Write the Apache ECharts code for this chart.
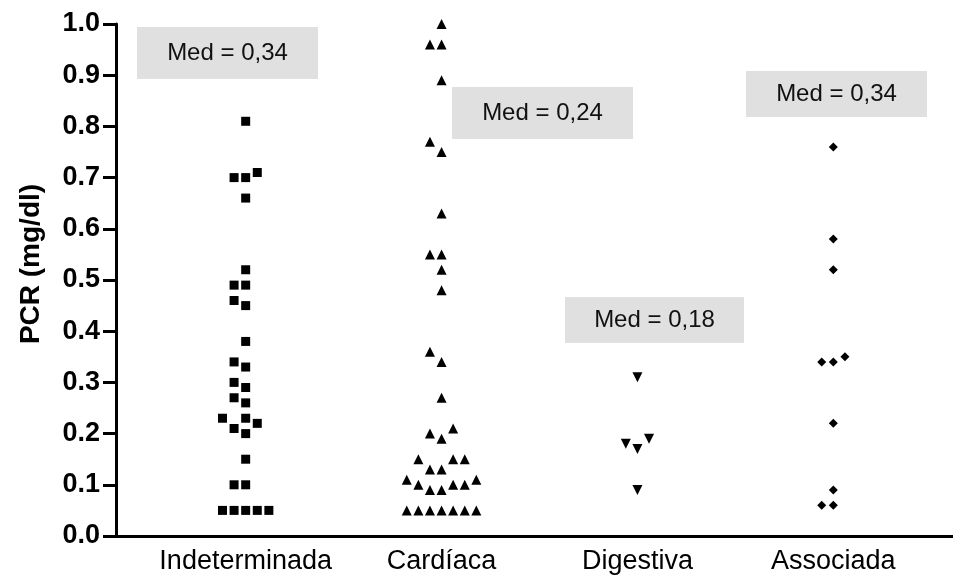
<!DOCTYPE html>
<html><head><meta charset="utf-8">
<script src="https://cdn.jsdelivr.net/npm/echarts@6/dist/echarts.min.js"></script>
<style>html,body{margin:0;padding:0;background:#fff}#c{width:953px;height:577px}</style>
</head><body><div id="c"></div>
<script>
const categories = ['Indeterminada', 'Cardíaca', 'Digestiva', 'Associada'];
const indeterminada = [0.05,0.05,0.05,0.05,0.05,0.10,0.10,0.15,0.20,0.21,0.22,0.23,0.23,0.26,0.27,0.29,0.30,0.33,0.34,0.38,0.45,0.46,0.49,0.49,0.52,0.66,0.70,0.70,0.71,0.81];
const cardiaca = [0.05,0.05,0.05,0.05,0.05,0.05,0.05,0.09,0.09,0.10,0.10,0.10,0.11,0.11,0.13,0.13,0.15,0.15,0.15,0.19,0.20,0.21,0.27,0.34,0.36,0.48,0.52,0.55,0.55,0.63,0.75,0.77,0.89,0.96,0.96,1.00];
const digestiva = [0.09,0.17,0.18,0.19,0.31];
const associada = [0.06,0.06,0.09,0.22,0.34,0.34,0.35,0.52,0.58,0.76];
const medianLabels = ['Med = 0,34', 'Med = 0,24', 'Med = 0,18', 'Med = 0,34'];

const FONT = '"Liberation Sans", Arial, Helvetica, sans-serif';
const SLOT = 0.0592;     // horizontal spacing between side-by-side points (x units)
const GAP = 0.0295;      // vertical distance under which points collide

function swarm(values, gi) {
  const placed = [];
  const order = [0, -1, 1, -2, 2, -3, 3, -4, 4];
  return values.slice().sort((a, b) => a - b).map(v => {
    const s = order.find(c => !placed.some(p => p.s === c && Math.abs(p.v - v) < GAP));
    placed.push({ v, s });
    return [gi + 1 + s * SLOT, v];
  });
}

const groups = [
  { data: indeterminada, symbol: 'rect', size: 9, rotate: 0 },
  { data: cardiaca, symbol: 'triangle', size: 10, rotate: 0 },
  { data: digestiva, symbol: 'triangle', size: 10, rotate: 180 },
  { data: associada, symbol: 'diamond', size: 9, rotate: 0 }
];

const boxes = [
  { x: 137, y: 27, w: 181, h: 52 },
  { x: 452, y: 87, w: 181, h: 52 },
  { x: 565, y: 297, w: 179, h: 46 },
  { x: 746, y: 71, w: 181, h: 46 }
];

const graphic = [];
boxes.forEach((b, i) => {
  graphic.push({ type: 'rect', z: 10, shape: { x: b.x, y: b.y, width: b.w, height: b.h }, style: { fill: '#e0e0e0' } });
  graphic.push({ type: 'text', z: 11, x: b.x + b.w / 2, y: b.y + b.h / 2,
    style: { text: medianLabels[i], font: '24px ' + FONT, fill: '#111', align: 'center', verticalAlign: 'middle', textAlign: 'center', textVerticalAlign: 'middle' } });
});
graphic.push({ type: 'text', z: 11, x: 31, y: 264, rotation: Math.PI / 2,
  style: { text: 'PCR (mg/dl)', font: 'bold 28px ' + FONT, fill: '#000', align: 'center', verticalAlign: 'middle', textAlign: 'center', textVerticalAlign: 'middle' } });

const chart = echarts.init(document.getElementById('c'));
chart.setOption({
  animation: false,
  backgroundColor: '#fff',
  grid: { left: 116, top: 24, right: 0, bottom: 41, containLabel: false },
  xAxis: {
    type: 'value', min: 0.338, max: 4.611,
    axisLine: { show: true, onZero: false, lineStyle: { color: '#000', width: 3 } },
    axisTick: { show: false },
    splitLine: { show: false },
    axisLabel: {
      customValues: [1, 2, 3, 4],
      formatter: v => categories[Math.round(v) - 1] || '',
      color: '#000', fontSize: 27, fontFamily: FONT, margin: 12
    }
  },
  yAxis: {
    type: 'value', min: 0, max: 1, interval: 0.1,
    axisLine: { show: true, lineStyle: { color: '#000', width: 3 } },
    axisTick: { show: true, length: 13, lineStyle: { color: '#000', width: 3 } },
    splitLine: { show: false },
    axisLabel: { formatter: v => v.toFixed(1), color: '#000', fontSize: 27, fontWeight: 'bold', fontFamily: FONT, margin: 16 }
  },
  series: groups.map((g, i) => ({
    type: 'scatter',
    data: swarm(g.data, i),
    symbol: g.symbol,
    symbolSize: g.size,
    symbolRotate: g.rotate,
    itemStyle: { color: '#000', opacity: 1 },
    silent: true
  })),
  graphic: graphic
});
</script>
</body></html>
